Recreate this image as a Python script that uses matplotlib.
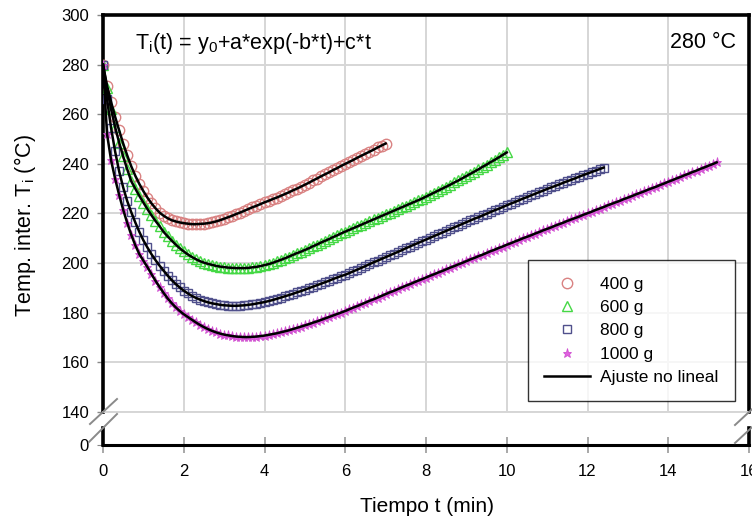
import numpy as np
import matplotlib
matplotlib.use("Agg")
import matplotlib.pyplot as plt
from matplotlib.lines import Line2D

plt.rcParams['font.family'] = ['Liberation Sans', 'DejaVu Sans']
plt.rcParams['mathtext.fontset'] = 'custom'
plt.rcParams['mathtext.rm'] = 'Liberation Sans'
plt.rcParams['mathtext.it'] = 'Liberation Sans:italic'

# ---------------- data ----------------
dt = 0.1  # sampling interval, min
temp_400 = [280.0, 271.5, 265.0, 259.0, 253.5, 248.2, 243.4, 239.0, 235.2, 231.9,
            229.0, 226.4, 224.1, 222.1, 220.4, 219.1, 218.1, 217.3, 216.8, 216.4,
            216.1, 215.9, 215.7, 215.7, 215.8, 215.9, 216.1, 216.4, 216.8, 217.3,
            217.9, 218.5, 219.1, 219.8, 220.4, 221.1, 221.8, 222.5, 223.1, 223.8,
            224.5, 225.1, 225.8, 226.4, 227.1, 227.8, 228.5, 229.3, 230.0, 230.8,
            231.6, 232.4, 233.3, 234.1, 235.0, 235.8, 236.6, 237.5, 238.3, 239.2,
            240.0, 240.8, 241.6, 242.5, 243.3, 244.1, 244.9, 245.7, 246.6, 247.4,
            248.2]
temp_600 = [280.0, 270.5, 262.0, 254.8, 248.6, 243.0, 237.8, 233.0, 230.0, 227.1,
            224.4, 221.8, 219.3, 217.0, 214.9, 212.6, 210.8, 209.1, 207.5, 206.0,
            204.7, 203.5, 202.5, 201.6, 200.8, 200.2, 199.7, 199.3, 198.9, 198.6,
            198.4, 198.2, 198.1, 198.0, 198.0, 198.0, 198.1, 198.3, 198.5, 198.8,
            199.2, 199.6, 200.1, 200.7, 201.3, 201.9, 202.6, 203.3, 204.0, 204.6,
            205.3, 206.0, 206.8, 207.5, 208.3, 209.0, 209.7, 210.5, 211.2, 212.0,
            212.7, 213.4, 214.1, 214.8, 215.5, 216.2, 216.9, 217.6, 218.3, 219.0,
            219.7, 220.4, 221.1, 221.8, 222.5, 223.2, 223.9, 224.6, 225.3, 226.0,
            226.8, 227.6, 228.4, 229.2, 230.0, 230.8, 231.6, 232.5, 233.3, 234.2,
            235.1, 236.0, 236.9, 237.8, 238.8, 239.7, 240.7, 241.6, 242.6, 243.6,
            244.6]
temp_800 = [280.0, 266.0, 254.5, 245.0, 237.0, 230.5, 225.0, 220.5, 216.4, 212.6,
            209.2, 206.3, 203.6, 201.2, 199.0, 197.0, 195.0, 193.2, 191.6, 190.2,
            188.9, 187.8, 186.8, 186.0, 185.3, 184.7, 184.2, 183.8, 183.5, 183.2,
            183.0, 182.9, 182.8, 182.8, 182.9, 183.0, 183.2, 183.4, 183.7, 184.0,
            184.3, 184.7, 185.1, 185.6, 186.1, 186.6, 187.1, 187.6, 188.2, 188.7,
            189.3, 189.9, 190.5, 191.1, 191.7, 192.3, 192.9, 193.6, 194.2, 194.8,
            195.3, 196.0, 196.7, 197.4, 198.1, 198.8, 199.6, 200.3, 201.0, 201.7,
            202.4, 203.1, 203.8, 204.5, 205.2, 206.0, 206.7, 207.4, 208.1, 208.8,
            209.5, 210.2, 210.9, 211.6, 212.3, 213.0, 213.7, 214.4, 215.1, 215.8,
            216.5, 217.2, 217.9, 218.5, 219.2, 219.9, 220.6, 221.3, 221.9, 222.6,
            223.3, 224.0, 224.6, 225.3, 226.0, 226.6, 227.3, 227.9, 228.6, 229.2,
            229.9, 230.5, 231.1, 231.7, 232.4, 233.0, 233.6, 234.2, 234.9, 235.5,
            236.1, 236.7, 237.3, 237.9, 238.5]
temp_1000 = [280.0, 252.0, 241.5, 234.0, 227.5, 221.5, 216.2, 211.4, 207.2, 203.6,
             201.0, 198.4, 195.6, 192.9, 190.4, 188.0, 185.8, 183.9, 182.2, 180.7,
             179.4, 178.3, 177.2, 176.1, 175.1, 174.2, 173.4, 172.7, 172.1, 171.6,
             171.2, 170.9, 170.6, 170.4, 170.3, 170.2, 170.2, 170.3, 170.4, 170.6,
             170.8, 171.1, 171.4, 171.7, 172.1, 172.5, 172.9, 173.4, 173.9, 174.4,
             174.9, 175.4, 176.0, 176.5, 177.1, 177.7, 178.3, 178.9, 179.5, 180.1,
             180.7, 181.4, 182.1, 182.7, 183.4, 184.1, 184.8, 185.4, 186.1, 186.8,
             187.5, 188.2, 188.8, 189.5, 190.2, 190.9, 191.5, 192.2, 192.9, 193.5,
             194.2, 194.9, 195.5, 196.2, 196.8, 197.5, 198.2, 198.8, 199.5, 200.1,
             200.8, 201.5, 202.1, 202.8, 203.4, 204.1, 204.8, 205.4, 206.1, 206.7,
             207.4, 208.0, 208.7, 209.3, 210.0, 210.6, 211.2, 211.9, 212.5, 213.2,
             213.8, 214.4, 215.1, 215.7, 216.3, 217.0, 217.6, 218.2, 218.8, 219.5,
             220.1, 220.7, 221.4, 222.0, 222.6, 223.3, 223.9, 224.5, 225.1, 225.8,
             226.4, 227.0, 227.7, 228.3, 228.9, 229.6, 230.2, 230.8, 231.5, 232.1,
             232.8, 233.4, 234.1, 234.7, 235.4, 236.0, 236.7, 237.3, 238.0, 238.6,
             239.3, 239.9, 240.6]

labels = ['400 g', '600 g', '800 g', '1000 g']
fit_label = 'Ajuste no lineal'
x_ticks = [0, 2, 4, 6, 8, 10, 12, 14, 16]
y_ticks = [140, 160, 180, 200, 220, 240, 260, 280, 300]

series = [temp_400, temp_600, temp_800, temp_1000]
styles = [
    dict(marker='o', mfc='none', mec='#d98282', ms=7.5, mew=1.0),
    dict(marker='^', mfc='none', mec='#45d845', ms=6.5, mew=1.0),
    dict(marker='s', mfc='none', mec='#50508c', ms=6.2, mew=1.0),
    dict(marker='*', mfc='#e060e0', mec='#d050d0', ms=6.5, mew=0.6),
]

# ---------------- figure ----------------
W, H = 752, 521
fig = plt.figure(figsize=(W / 100, H / 100), dpi=100)
ax = fig.add_axes([103 / W, 1 - 412 / H, 646 / W, 397 / H])
axb = fig.add_axes([103 / W, 1 - 445 / H, 646 / W, 17 / H])

grid_c = '#d6d6d6'
for temps, st in zip(series, styles):
    t = np.arange(len(temps)) * dt
    ax.plot(t, temps, linestyle='none', zorder=3, **st)
for temps in series:
    t = np.arange(len(temps)) * dt
    ax.plot(t, temps, color='black', lw=1.8, zorder=4)

ax.set_xlim(0, 16)
ax.set_ylim(140, 300)
ax.set_xticks(x_ticks)
ax.set_yticks(y_ticks)
ax.tick_params(axis='x', length=0, labelbottom=False)
ax.tick_params(axis='y', length=4, color='#888888', width=1, labelsize=12, pad=6)
ax.grid(True, color=grid_c, lw=1.4, zorder=0)
ax.set_axisbelow(True)
for s in ['top', 'left', 'right']:
    ax.spines[s].set_linewidth(2.6)
    ax.spines[s].set_color('black')
ax.spines['bottom'].set_color(grid_c)
ax.spines['bottom'].set_linewidth(1.4)

axb.set_xlim(0, 16)
axb.set_ylim(0, 17 / 2.465)
axb.set_xticks(x_ticks)
axb.set_yticks([0])
axb.tick_params(axis='x', direction='inout', length=11, color='#999999', width=1.2,
                labelsize=12, pad=8)
axb.tick_params(axis='y', length=4, color='#888888', labelsize=12, pad=6)
axb.spines['top'].set_visible(False)
axb.spines['bottom'].set_linewidth(2.2)
for s in ['left', 'right']:
    axb.spines[s].set_linewidth(2.6)
axb.patch.set_alpha(0)

# axis-break marks
def brk(x1, y1, x2, y2):
    fig.add_artist(Line2D([x1 / W, x2 / W], [1 - y1 / H, 1 - y2 / H],
                          transform=fig.transFigure, color='#8a8a8a', lw=1.4))
brk(90, 424, 117, 399)
brk(89, 442, 117, 414)
brk(735, 425, 762, 400)
brk(735, 443, 762, 418)

# texts
ax.text(135 / W, 1 - 43 / H, r'T$_\mathregular{i}$(t) = y$_\mathregular{0}$+a*exp(-b*t)+c*t',
        transform=fig.transFigure, fontsize=15.5, va='center', ha='left')
ax.text(736 / W, 1 - 43 / H, '280 °C', transform=fig.transFigure,
        fontsize=15.5, va='center', ha='right')
fig.text(25 / W, 1 - 226 / H, r'Temp. inter. T$_\mathregular{i}$ (°C)', rotation=90,
         fontsize=15.5, va='center', ha='center')
fig.text(427 / W, 1 - 507 / H, 'Tiempo t (min)', fontsize=15, va='center', ha='center')

# legend
handles = [Line2D([], [], linestyle='none', **st) for st in styles]
handles.append(Line2D([], [], color='black', lw=1.8))
leg = ax.legend(handles, labels + [fit_label], loc='upper left',
                bbox_to_anchor=(528 / W, 1 - 260 / H), bbox_transform=fig.transFigure,
                fontsize=12.5, frameon=True, fancybox=False, borderaxespad=0,
                borderpad=0.95, labelspacing=0.47, handlelength=2.6, handletextpad=0.6,
                numpoints=1)
leg.get_frame().set_edgecolor('black')
leg.get_frame().set_linewidth(1.0)
leg.set_zorder(10)

fig.savefig('out.png', dpi=100)
